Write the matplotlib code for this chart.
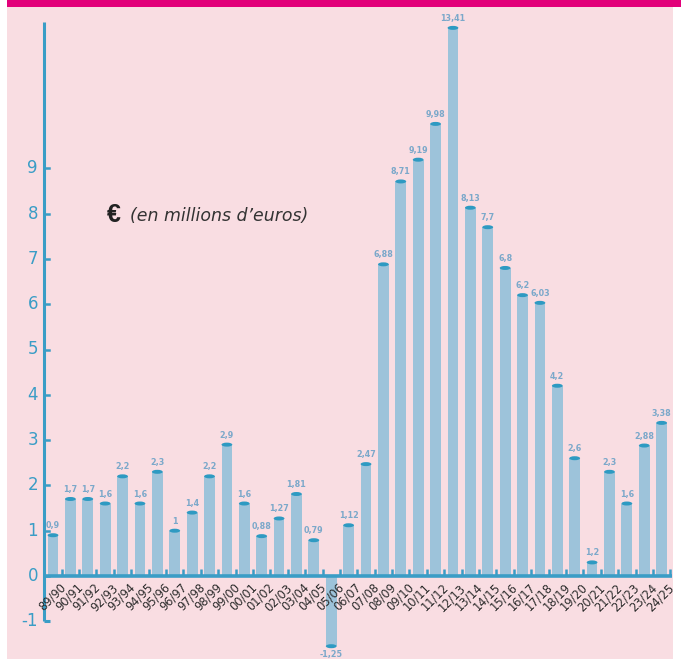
import matplotlib
matplotlib.use("Agg")
import matplotlib.pyplot as plt
from matplotlib.patches import Rectangle, Ellipse

seasons = ["89/90", "90/91", "91/92", "92/93", "93/94", "94/95", "95/96", "96/97",
           "97/98", "98/99", "99/00", "00/01", "01/02", "02/03", "03/04", "04/05",
           "05/06", "06/07", "07/08", "08/09", "09/10", "10/11", "11/12", "12/13",
           "13/14", "14/15", "15/16", "16/17", "17/18", "18/19", "19/20", "20/21",
           "21/22", "22/23", "23/24", "24/25"]
# bar heights as drawn in the picture
heights = [0.9, 1.7, 1.7, 1.6, 2.2, 1.6, 2.3, 1.0, 1.4, 2.2, 2.9, 1.6, 0.88, 1.27,
           1.81, 0.79, -1.55, 1.12, 2.47, 6.88, 8.71, 9.19, 9.98, 12.1, 8.13, 7.7,
           6.8, 6.2, 6.03, 4.2, 2.6, 0.3, 2.3, 1.6, 2.88, 3.38]
# value labels printed on the chart
value_labels = ["0,9", "1,7", "1,7", "1,6", "2,2", "1,6", "2,3", "1", "1,4", "2,2",
                "2,9", "1,6", "0,88", "1,27", "1,81", "0,79", "-1,25", "1,12", "2,47",
                "6,88", "8,71", "9,19", "9,98", "13,41", "8,13", "7,7", "6,8", "6,2",
                "6,03", "4,2", "2,6", "1,2", "2,3", "1,6", "2,88", "3,38"]
y_ticks = [-1, 0, 1, 2, 3, 4, 5, 6, 7, 8, 9]

W, H = 681, 659
fig = plt.figure(figsize=(W / 100, H / 100), dpi=100, facecolor="white")

ax = fig.add_axes([0, 0, 1, 1])
ax.set_facecolor("none")
px_unit = 45.3
x0, dx = 53.0, 17.39
ax.set_xlim(-x0 / dx, (W - x0) / dx)
ax.set_ylim(-(H - 576) / px_unit, 576 / px_unit)
ax.axis("off")

# background panels (axes-fraction coords == figure fraction here)
ax.add_patch(Rectangle((7 / W, 0), 666 / W, 1, transform=ax.transAxes,
                       facecolor="#F9DDE2", edgecolor="none", zorder=0))
ax.add_patch(Rectangle((7 / W, 1 - 7 / H), 674 / W, 7 / H, transform=ax.transAxes,
                       facecolor="#E2007A", edgecolor="none", zorder=1))

bar_c = "#9DC3DA"
cap_c = "#2E9AC2"
axis_c = "#3A9DC6"
lab_c = "#7BA8CA"
bw = 0.62

xs = list(range(len(seasons)))
ax.bar(xs, heights, width=bw, color=bar_c, zorder=2)
cap_h = 4.0 / px_unit
for x, h, lab in zip(xs, heights, value_labels):
    ax.add_patch(Ellipse((x, h), bw, cap_h, facecolor=cap_c, edgecolor="none", zorder=3))
    if h >= 0:
        ax.text(x, h + 5 / px_unit, lab, ha="center", va="bottom", fontsize=5.8,
                color=lab_c, fontweight="bold", zorder=4)
    else:
        ax.text(x, h - 4 / px_unit, lab, ha="center", va="top", fontsize=5.8,
                color=lab_c, fontweight="bold", zorder=4)

# y axis
yx = (44 - x0) / dx
ax.plot([yx, yx], [-1, (576 - 22) / px_unit], color=axis_c, lw=2.2,
        solid_capstyle="butt", zorder=5)
ax.plot([yx, yx + 6 / dx], [-1, -1], color=axis_c, lw=2.2, solid_capstyle="butt", zorder=5)
for t in y_ticks:
    if t != -1:
        ax.plot([yx, yx + 5 / dx], [t, t], color=axis_c, lw=1.8, zorder=5)
    ax.text(yx - 6 / dx, t, str(t), ha="right", va="center",
            fontsize=12, color=axis_c, zorder=5)

# x axis
ax.plot([yx, (672 - x0) / dx], [0, 0], color=axis_c, lw=2.6, solid_capstyle="butt", zorder=5)
for x in xs:
    ax.plot([x + 0.5, x + 0.5], [0, 7 / px_unit], color=axis_c, lw=1.8,
            solid_capstyle="butt", zorder=5)
    ax.text(x + 0.35, -5 / px_unit, seasons[x], rotation=45, rotation_mode="anchor",
            ha="right", va="top", fontsize=8.3, color="#2b2b2b", zorder=5)

# unit note
ax.text((107 - x0) / dx, (576 - 215) / px_unit, "€", fontsize=18, fontweight="bold",
        family="Liberation Sans", color="#222222", ha="left", va="center")
ax.text((130 - x0) / dx, (576 - 216) / px_unit, "(en millions d’euros)", fontsize=12.5,
        style="italic", color="#333333", ha="left", va="center")

fig.savefig("out.png", dpi=100, facecolor="white")
